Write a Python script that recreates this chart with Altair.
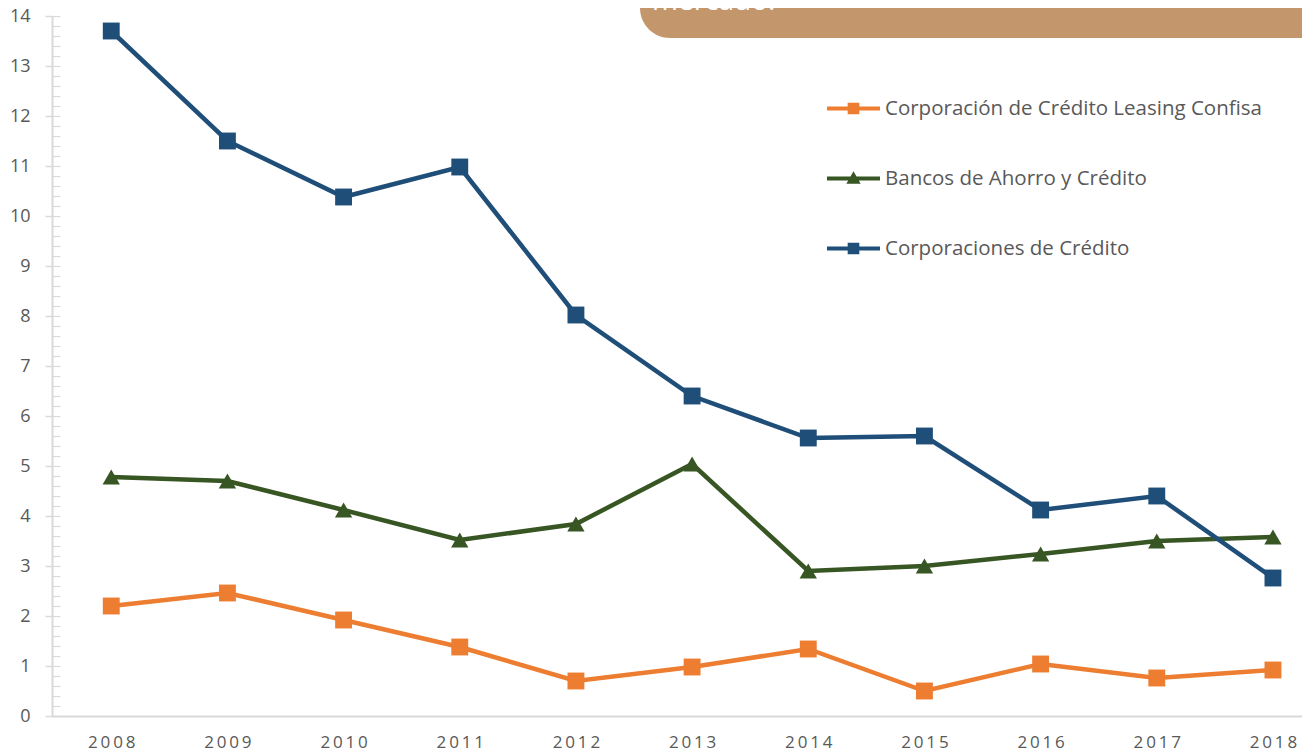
import altair as alt
import pandas as pd

years = [2008, 2009, 2010, 2011, 2012, 2013, 2014, 2015, 2016, 2017, 2018]
series_names = [
    "Corporación de Crédito Leasing Confisa",
    "Bancos de Ahorro y Crédito",
    "Corporaciones de Crédito",
]
confisa = [2.20, 2.46, 1.92, 1.38, 0.70, 0.98, 1.34, 0.50, 1.04, 0.76, 0.92]
bancos = [4.78, 4.70, 4.12, 3.52, 3.84, 5.04, 2.90, 3.00, 3.24, 3.50, 3.58]
corporaciones = [13.70, 11.50, 10.38, 10.98, 8.02, 6.40, 5.56, 5.60, 4.12, 4.40, 2.76]
colors = ["#ED7D31", "#375623", "#1F4E79"]
banner_text = "mercado."

rows = []
for name, vals in zip(series_names, [confisa, bancos, corporaciones]):
    for yr, v in zip(years, vals):
        rows.append({"year": yr, "value": v, "series": name})
df = pd.DataFrame(rows)

minor_vals = [round(k * 0.2, 1) for k in range(0, 71)]

FONT = "Open Sans"
GREY_TXT = "#595959"
AX = "#D9D9D9"

color_scale = alt.Scale(domain=series_names, range=colors)

sq_path = "M-1,-0.08H1V0.08H-1Z M-0.22,-0.22H0.22V0.22H-0.22Z"
tri_path = "M-1,-0.08H1V0.08H-1Z M0,-0.27L0.27,0.2H-0.27Z"

legend_def = alt.Legend(
    title=None, orient="none", legendX=775, legendY=66, padding=0,
    symbolSize=2809, symbolOpacity=1, symbolStrokeWidth=0,
    labelFont=FONT, labelFontSize=20.5, labelColor=GREY_TXT, labelLimit=700,
    labelOffset=5, rowPadding=33,
)

x_enc = alt.X(
    "year:Q",
    scale=alt.Scale(domain=[2007.49, 2018.25], nice=False, zero=False),
    axis=alt.Axis(
        values=years, format="d", title=None, ticks=False, grid=False,
        domainColor=AX, domainWidth=2, labelFont=FONT, labelFontSize=17,
        labelColor=GREY_TXT, labelPadding=26, labelBaseline="middle",
        labelExpr="join(split(datum.label, ''), '\u2009')",
    ),
)
y_scale = alt.Scale(domain=[0, 14], nice=False)
y_main = alt.Y(
    "value:Q", scale=y_scale,
    axis=alt.Axis(
        values=list(range(0, 15)), title=None, grid=False, orient="left",
        domainColor=AX, domainWidth=2, tickColor=AX, tickWidth=1.5, tickSize=7,
        labelFont=FONT, labelFontSize=18, labelColor=GREY_TXT, labelPadding=15,
    ),
)
y_minor = alt.Y(
    "value:Q", scale=y_scale,
    axis=alt.Axis(
        values=minor_vals, title=None, grid=False, orient="left", offset=-8,
        domain=False, labels=False, tickColor=AX, tickWidth=1.2, tickSize=8,
    ),
)
y_none = alt.Y("value:Q", scale=y_scale, axis=None)
color_enc = alt.Color("series:N", scale=color_scale, legend=legend_def)

base = alt.Chart(df)

lines = base.mark_line(strokeWidth=4.5).encode(
    x=x_enc, y=y_main, color=color_enc, order=alt.Order("year:Q"),
)

squares = base.transform_filter(
    alt.datum.series != series_names[1]
).mark_point(shape="square", filled=True, size=285, opacity=1).encode(
    x=x_enc, y=y_none, color=color_enc,
)

triangles = base.transform_filter(
    alt.datum.series == series_names[1]
).mark_point(shape="triangle-up", filled=True, size=300, opacity=1).encode(
    x=x_enc, y=y_none, color=color_enc,
)

legend_layer = base.mark_point(filled=True, size=10, opacity=0).encode(
    x=x_enc, y=y_minor, color=color_enc,
    shape=alt.Shape("series:N", scale=alt.Scale(domain=series_names,
                                                range=[sq_path, tri_path, sq_path]),
                    legend=legend_def),
)

banner = alt.Chart(pd.DataFrame({"t": [banner_text]})).mark_rect(
    color="#C4966B", cornerRadiusBottomLeft=30
).encode(x=alt.value(588), x2=alt.value(1262), y=alt.value(-40), y2=alt.value(22))

banner_txt = alt.Chart(pd.DataFrame({"t": [banner_text]})).mark_text(
    color="white", font=FONT, fontSize=28, align="left", baseline="alphabetic"
).encode(text="t:N", x=alt.value(600), y=alt.value(-6))

chart = alt.layer(
    banner, banner_txt, lines, squares, triangles, legend_layer
).resolve_axis(y="independent").properties(
    width=1250, height=700, autosize="none",
    padding={"left": 44, "top": 8, "right": 0, "bottom": 36},
    background="white",
).configure_view(stroke=None)

chart.save("out.html", embed_options={"renderer": "svg", "actions": False})
